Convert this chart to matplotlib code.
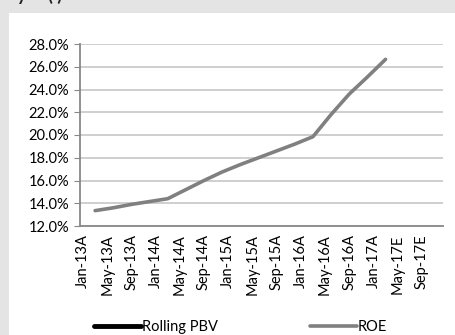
import matplotlib
matplotlib.use('Agg')
import matplotlib.pyplot as plt
from matplotlib.patches import Rectangle
from matplotlib.lines import Line2D

# months since Jan-13 for the x axis (date axis, major unit 4 months)
tickMonths = list(range(0, 57, 4))
tickLabels = ['Jan-13A', 'May-13A', 'Sep-13A', 'Jan-14A', 'May-14A', 'Sep-14A',
              'Jan-15A', 'May-15A', 'Sep-15A', 'Jan-16A', 'May-16A', 'Sep-16A',
              'Jan-17A', 'May-17E', 'Sep-17E']

# quarterly ROE, Mar-13 .. Mar-17
roeMonths = [2, 5, 8, 11, 14, 17, 20, 23, 26, 29, 32, 35, 38, 41, 44, 47, 50]
roe = [13.35, 13.6, 13.9, 14.15, 14.4, 15.2, 16.0, 16.75, 17.4, 18.0, 18.6,
       19.2, 19.85, 21.8, 23.6, 25.1, 26.65]
pbv = []

font = 'Lato'
fs = 10.5

fig = plt.figure(figsize=(4.56, 3.35), dpi=100)
fig.patch.set_facecolor('#e4e4e4')
fig.add_artist(Rectangle((9/456, 0), 1, 1 - 13/335, transform=fig.transFigure,
                         facecolor='white', edgecolor='none', zorder=0))

# cut-off title fragments at the very top
fig.text(17/456, 1 - 0.5/335, 'y', fontsize=13, fontweight='bold', color='#222222',
         family=font, va='baseline')
fig.text(48/456, 1 - 0.5/335, '( )', fontsize=13, fontweight='bold', color='#222222',
         family=font, va='baseline')

ax = fig.add_axes([80/456, 109/335, 363/456, 182/335])
ax.set_facecolor('none')

ax.plot(pbv, pbv, color='black', lw=3.2, solid_capstyle='round', label='Rolling PBV')
ax.plot(roeMonths, roe, color='#808080', lw=2.6, solid_capstyle='round', label='ROE')

ax.set_xlim(-0.5, 59.5)
ax.set_ylim(12, 28)
ax.set_yticks(range(12, 29, 2))
ax.set_yticklabels(['%.1f%%' % v for v in range(12, 29, 2)], family=font, fontsize=fs)
ax.set_xticks(tickMonths)
ax.set_xticklabels(tickLabels, rotation=90, family=font, fontsize=fs)
ax.tick_params(axis='x', length=0, pad=6)
ax.tick_params(axis='y', length=4, color='#888888', pad=4)

ax.grid(axis='y', color='#cccccc', lw=1.3)
ax.set_axisbelow(True)
for side in ['top', 'right']:
    ax.spines[side].set_visible(False)
ax.spines['left'].set_color('#888888')
ax.spines['bottom'].set_color('#888888')
ax.spines['left'].set_linewidth(1.3)
ax.spines['bottom'].set_linewidth(1.3)

handles = [Line2D([], [], color='black', lw=3.5, solid_capstyle='round'),
           Line2D([], [], color='#808080', lw=2.6, solid_capstyle='round')]
fig.legend(handles, ['Rolling PBV', 'ROE'], loc='center', bbox_to_anchor=(0.528, 0.025),
           ncol=2, frameon=False, handlelength=3.2, handletextpad=0.1,
           columnspacing=6.3, prop={'family': font, 'size': fs})

fig.savefig('out.png', dpi=100, facecolor=fig.get_facecolor())
